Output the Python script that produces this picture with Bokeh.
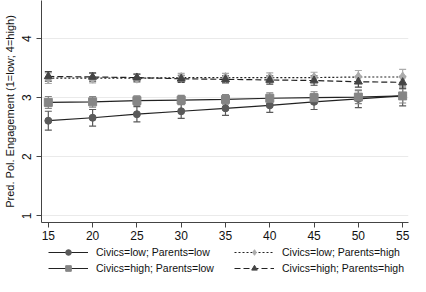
from bokeh.plotting import figure
from bokeh.layouts import column
from bokeh.models import (ColumnDataSource, Whisker, TeeHead, Legend, LegendItem,
                          FixedTicker, Range1d)
from bokeh.embed import file_html
from bokeh.resources import INLINE

ages = [15, 20, 25, 30, 35, 40, 45, 50, 55]

labels = ["Civics=low; Parents=low", "Civics=high; Parents=low",
          "Civics=low; Parents=high", "Civics=high; Parents=high"]
s1 = [2.61, 2.66, 2.72, 2.77, 2.82, 2.87, 2.93, 2.98, 3.03]
s1_err = [0.16, 0.14, 0.13, 0.12, 0.12, 0.12, 0.13, 0.15, 0.17]
s2 = [2.92, 2.93, 2.95, 2.96, 2.97, 2.99, 3.00, 3.01, 3.03]
s2_err = [0.10, 0.09, 0.08, 0.08, 0.08, 0.09, 0.10, 0.11, 0.12]
s3 = [3.33, 3.33, 3.33, 3.34, 3.34, 3.34, 3.34, 3.35, 3.35]
s3_err = [0.09, 0.08, 0.07, 0.07, 0.07, 0.08, 0.09, 0.11, 0.13]
s4 = [3.36, 3.35, 3.34, 3.32, 3.31, 3.30, 3.29, 3.27, 3.26]
s4_err = [0.08, 0.07, 0.06, 0.06, 0.06, 0.07, 0.08, 0.09, 0.10]

x_ticks = [15, 20, 25, 30, 35, 40, 45, 50, 55]
y_ticks = [1, 2, 3, 4]

FONT = "Liberation Sans"

p = figure(width=410, height=242, output_backend="svg", toolbar_location=None,
           x_range=Range1d(14.23, 55.66), y_range=Range1d(0.887, 4.645),
           min_border_left=32, min_border_right=2, min_border_top=0,
           min_border_bottom=0)
p.outline_line_color = None
p.background_fill_color = "white"
p.border_fill_color = "white"

p.xgrid.grid_line_color = None
p.ygrid.grid_line_color = "#eaeaea"
p.ygrid.grid_line_width = 1
p.yaxis.ticker = FixedTicker(ticks=y_ticks)
p.xaxis.ticker = FixedTicker(ticks=x_ticks)
for ax in (p.xaxis, p.yaxis):
    ax.axis_line_color = "#444444"
    ax.major_tick_line_color = "#444444"
    ax.major_tick_out = 5
    ax.major_tick_in = 0
    ax.minor_tick_line_color = None
    ax.major_label_text_font = FONT
    ax.major_label_text_color = "#111111"
    ax.major_label_text_font_size = "12px"
p.yaxis.major_label_orientation = "vertical"
p.yaxis.axis_label = "Pred. Pol. Engagement (1=low; 4=high)"
p.yaxis.axis_label_text_font = FONT
p.yaxis.axis_label_text_font_style = "normal"
p.yaxis.axis_label_text_font_size = "11px"
p.yaxis.axis_label_text_color = "#111111"
p.yaxis.axis_label_standoff = 4
p.xaxis.major_label_standoff = 3

series = [
    (s1, s1_err, "#5a5a5a", "circle", 7, "solid"),
    (s2, s2_err, "#858585", "square", 8, "solid"),
    (s3, s3_err, "#ababab", "diamond", 10, "2 2"),
    (s4, s4_err, "#444444", "triangle", 8, "6 3"),
]

# separate strip for the legend, below the chart (its range hides the data)
pl = figure(width=410, height=34, output_backend="svg", toolbar_location=None,
            x_axis_type=None, y_axis_type=None,
            x_range=Range1d(0, 1), y_range=Range1d(0, 1),
            min_border_left=0, min_border_right=0, min_border_top=0,
            min_border_bottom=0)
pl.outline_line_color = None
pl.xgrid.grid_line_color = None
pl.ygrid.grid_line_color = None

items = {}
for (vals, errs, col, mk, sz, dash), lab in zip(series, labels):
    src = ColumnDataSource(dict(x=ages, y=vals,
                                lo=[v - e for v, e in zip(vals, errs)],
                                hi=[v + e for v, e in zip(vals, errs)]))
    w = Whisker(source=src, base="x", lower="lo", upper="hi", line_color=col,
                line_width=1.2,
                lower_head=TeeHead(size=7, line_color=col, line_width=1.2),
                upper_head=TeeHead(size=7, line_color=col, line_width=1.2))
    p.add_layout(w)
    p.line("x", "y", source=src, line_color="#222222", line_width=1.2,
           line_dash=dash)
    p.scatter("x", "y", source=src, marker=mk, size=sz, fill_color=col,
              line_color=col)
    lln = pl.line("x", "y", source=src, line_color="#222222", line_width=1.2,
                  line_dash=dash)
    lsc = pl.scatter("x", "y", source=src, marker=mk, size=sz - 1,
                     fill_color=col, line_color=col)
    items[lab] = LegendItem(label=lab, renderers=[lln, lsc])


def make_legend(its, loc):
    return Legend(items=its, orientation="vertical", location=loc,
                  label_text_font=FONT, label_text_font_size="10.5px",
                  label_text_color="#111111", glyph_width=40, glyph_height=14,
                  label_height=14, spacing=2, padding=1, margin=0,
                  border_line_color=None, background_fill_alpha=0,
                  label_standoff=8)


pl.add_layout(make_legend([items[labels[0]], items[labels[1]]], (7, 1)), "center")
pl.add_layout(make_legend([items[labels[2]], items[labels[3]]], (193, 1)), "center")

layout = column(p, pl, spacing=0)
open("out.html", "w").write(file_html(layout, INLINE))
